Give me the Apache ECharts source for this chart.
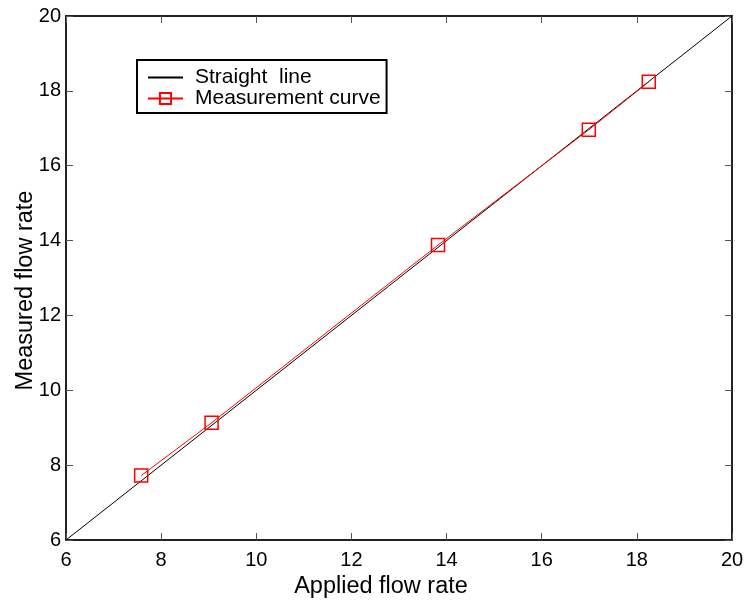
<!DOCTYPE html>
<html><head><meta charset="utf-8">
<script src="https://cdn.jsdelivr.net/npm/echarts@6/dist/echarts.min.js"></script>
<style>html,body{margin:0;padding:0;background:#fff}#c{width:747px;height:603px}</style>
</head><body><div id="c"></div>
<script>
var straightX = [6, 20];
var straightY = [6, 20];
var measX = [7.58, 9.06, 13.82, 16.99, 18.25];
var measY = [7.72, 9.13, 13.88, 16.96, 18.24];
var xName = 'Applied flow rate';
var yName = 'Measured flow rate';
var F = 'Liberation Sans, Arial, sans-serif';
function pairs(a,b){return a.map(function(v,i){return [v,b[i]];});}
var axisCommon = {min:6,max:20,interval:2,
  axisLine:{show:true,lineStyle:{color:'#222',width:2}},
  axisTick:{show:true,inside:true,length:7,lineStyle:{color:'#555',width:1}},
  splitLine:{show:false}};
var chart = echarts.init(document.getElementById('c'));
chart.setOption({
  animation:false,
  backgroundColor:'#fff',
  grid:{left:66,right:15,top:16,bottom:63,containLabel:false,outerBoundsMode:'none'},
  legend:{show:true,orient:'vertical',left:137,top:60,
    backgroundColor:'#fff',borderColor:'#000',borderWidth:2,borderRadius:0,
    padding:[7,6,4,10],itemGap:0,itemWidth:35,itemHeight:14,
    textStyle:{fontFamily:F,fontSize:21,color:'#000',padding:[0,0,0,7]},
    data:[{name:'Straight  line',itemStyle:{opacity:0}},'Measurement curve']},
  xAxis:[Object.assign({type:'value',position:'bottom',name:xName,nameLocation:'middle',nameGap:35,
    nameMoveOverlap:false,
    nameTextStyle:{fontFamily:F,fontSize:23.5,color:'#000',padding:[0,36,0,0]},
    axisLabel:{fontFamily:F,fontSize:20,color:'#000',margin:10}},axisCommon),
    Object.assign({type:'value',position:'top',axisLabel:{show:false}},axisCommon)],
  yAxis:[Object.assign({type:'value',position:'left',name:yName,nameLocation:'middle',nameGap:28,
    nameMoveOverlap:false,
    nameTextStyle:{fontFamily:F,fontSize:23.5,color:'#000',padding:[0,25,0,0]},
    axisLabel:{fontFamily:F,fontSize:20,color:'#000',margin:5}},axisCommon),
    Object.assign({type:'value',position:'right',axisLabel:{show:false}},axisCommon)],
  series:[
    {name:'Straight  line',type:'line',data:pairs(straightX,straightY),symbol:'none',
     lineStyle:{color:'#000',width:1},itemStyle:{color:'#000'}},
    {name:'Measurement curve',type:'line',data:pairs(measX,measY),symbol:'rect',symbolSize:13,
     lineStyle:{color:'#ff0000',width:1},
     itemStyle:{color:'rgba(255,255,255,0)',borderColor:'#ff0000',borderWidth:1.5}}
  ]
});
</script></body></html>
